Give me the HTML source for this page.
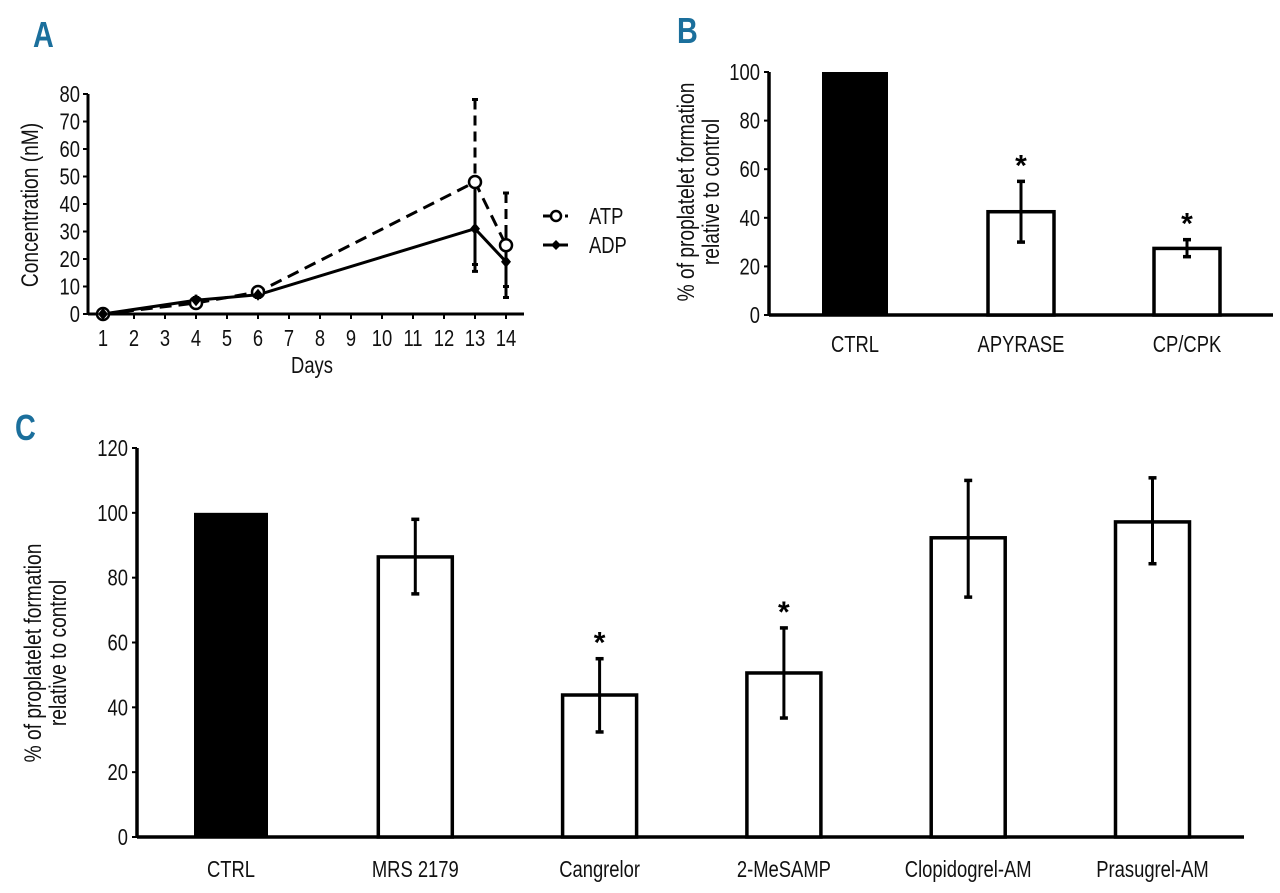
<!DOCTYPE html>
<html><head><meta charset="utf-8"><style>
html,body{margin:0;padding:0;background:#fff;}
svg{display:block;font-family:"Liberation Sans Narrow","Liberation Sans",sans-serif;}
.tk{font-size:23px;fill:#111;}
.lbl{font-size:23px;fill:#111;}
.ttl{font-size:24px;fill:#111;}
.pl{font-size:36px;font-weight:bold;fill:#1b6f9c;font-family:"Liberation Sans Narrow","Liberation Sans",sans-serif;}
</style></head><body>
<svg id="fig" width="1280" height="893" viewBox="0 0 1280 893" xmlns="http://www.w3.org/2000/svg">
<text class="pl" x="33" y="47">A</text>
<text class="pl" x="677" y="43">B</text>
<text class="pl" x="15" y="440">C</text>
<g id="ga"></g>
<g id="gb"></g>
<g id="gc"></g>
</svg>
<script>
// Panel A data
const daysA = [1,4,6,13,14];
const atpVals = [0,4,8,48,25];
const atpErrHi = [0,6,9,78,44];
const atpErrLo = [0,3,7,18,10];
const adpVals = [0,5,7,31,19];
const adpErrHi = [0,7,8,47,30];
const adpErrLo = [0,3,6,15.5,6];
const xTicksA = [1,2,3,4,5,6,7,8,9,10,11,12,13,14];
const yTicksA = [0,10,20,30,40,50,60,70,80];
// Panel B data
const catsB = ["CTRL","APYRASE","CP/CPK"];
const valsB = [100,42.5,27.4];
const errHiB = [100,55,31];
const errLoB = [100,30,24];
const starB = [false,true,true];
const yTicksB = [0,20,40,60,80,100];
// Panel C data
const catsC = ["CTRL","MRS 2179","Cangrelor","2-MeSAMP","Clopidogrel-AM","Prasugrel-AM"];
const valsC = [100,86.4,43.8,50.6,92.3,97.2];
const errHiC = [100,98,55,64.5,110,110.8];
const errLoC = [100,75,32.4,36.7,74,84.3];
const starC = [false,false,true,true,false,false];
const yTicksC = [0,20,40,60,80,100,120];

const NS="http://www.w3.org/2000/svg";
function mk(p,tag,attrs,name,txt){
  const e=document.createElementNS(NS,tag);
  for(const k in attrs) e.setAttribute(k,attrs[k]);
  
  
  if(txt!==undefined) e.textContent=txt;
  p.appendChild(e); return e;
}
// ---------- Panel A ----------
(function(){
  const g=document.getElementById('ga');
  const X0=88, XE=524, Y0=314, YT=94;
  const xA=d=>103+(d-1)*(506-103)/13;
  const yA=v=>Y0-(v/80)*(Y0-YT);
  mk(g,'line',{x1:X0,y1:Y0,x2:XE,y2:Y0,stroke:'#000','stroke-width':3},'x-axis');
  mk(g,'line',{x1:X0,y1:Y0+1,x2:X0,y2:YT,stroke:'#000','stroke-width':3},'y-axis');
  yTicksA.forEach(t=>{
    mk(g,'line',{x1:X0-5,y1:yA(t),x2:X0,y2:yA(t),stroke:'#000','stroke-width':2},'y-tick');
    mk(g,'text',{x:X0-8,y:yA(t)+8,'text-anchor':'end',class:'tk'},'y-tick-label',String(t));
  });
  xTicksA.forEach(t=>{
    mk(g,'line',{x1:xA(t),y1:Y0,x2:xA(t),y2:Y0+5,stroke:'#000','stroke-width':2},'x-tick');
    mk(g,'text',{x:xA(t),y:Y0+32,'text-anchor':'middle',class:'tk'},'x-tick-label',String(t));
  });
  mk(g,'text',{x:312,y:373,'text-anchor':'middle',class:'lbl'},'x-axis-title','Days');
  mk(g,'text',{x:0,y:0,'text-anchor':'middle',class:'ttl',transform:'translate(38,205) rotate(-90)'},'y-axis-title','Concentration (nM)');
  daysA.forEach((d,i)=>{
    if(atpErrHi[i]!==atpErrLo[i]){
      mk(g,'line',{x1:xA(d),y1:yA(atpErrHi[i]),x2:xA(d),y2:yA(atpErrLo[i]),stroke:'#000','stroke-width':3,'stroke-dasharray':'10,6'},'atp-error-bar');
      mk(g,'line',{x1:xA(d)-3,y1:yA(atpErrHi[i]),x2:xA(d)+3,y2:yA(atpErrHi[i]),stroke:'#000','stroke-width':3},'atp-error-cap');
      mk(g,'line',{x1:xA(d)-3,y1:yA(atpErrLo[i]),x2:xA(d)+3,y2:yA(atpErrLo[i]),stroke:'#000','stroke-width':3},'atp-error-cap');
    }
    if(adpErrHi[i]!==adpErrLo[i]){
      mk(g,'line',{x1:xA(d),y1:yA(adpErrHi[i]),x2:xA(d),y2:yA(adpErrLo[i]),stroke:'#000','stroke-width':3},'adp-error-bar');
      mk(g,'line',{x1:xA(d)-3,y1:yA(adpErrLo[i]),x2:xA(d)+3,y2:yA(adpErrLo[i]),stroke:'#000','stroke-width':3},'adp-error-cap');
    }
  });
  const pa=daysA.map((d,i)=>xA(d)+','+yA(atpVals[i])).join(' ');
  mk(g,'polyline',{points:pa,fill:'none',stroke:'#000','stroke-width':3,'stroke-dasharray':'12,7'},'atp-line');
  const pd=daysA.map((d,i)=>xA(d)+','+yA(adpVals[i])).join(' ');
  mk(g,'polyline',{points:pd,fill:'none',stroke:'#000','stroke-width':3},'adp-line');
  daysA.forEach((d,i)=>{
    mk(g,'circle',{cx:xA(d),cy:yA(atpVals[i]),r:6,fill:'#fff',stroke:'#000','stroke-width':2.5},'atp-point');
    const x=xA(d),y=yA(adpVals[i]);
    mk(g,'polygon',{points:`${x},${y-6} ${x+5},${y} ${x},${y+6} ${x-5},${y}`,fill:'#000'},'adp-point');
  });
  mk(g,'line',{x1:543,y1:216,x2:568,y2:216,stroke:'#000','stroke-width':3,'stroke-dasharray':'7,4'},'legend-atp-line');
  mk(g,'circle',{cx:556,cy:216,r:5,fill:'#fff',stroke:'#000','stroke-width':2.5},'legend-atp-marker');
  mk(g,'text',{x:589,y:224,class:'lbl'},'legend-atp-label','ATP');
  mk(g,'line',{x1:543,y1:245,x2:568,y2:245,stroke:'#000','stroke-width':3},'legend-adp-line');
  mk(g,'polygon',{points:'556,240 561,245 556,250 551,245',fill:'#000'},'legend-adp-marker');
  mk(g,'text',{x:589,y:253,class:'lbl'},'legend-adp-label','ADP');
})();
function bars(g,cats,vals,hi,lo,star,ticks,cfg){
  const yS=v=>cfg.Y0-(v/cfg.max)*(cfg.Y0-cfg.YT);
  const xc=i=>cfg.c0+i*cfg.step;
  mk(g,'line',{x1:cfg.X0,y1:cfg.Y0,x2:cfg.XE,y2:cfg.Y0,stroke:'#000','stroke-width':3.5},'x-axis');
  mk(g,'line',{x1:cfg.X0,y1:cfg.Y0+1,x2:cfg.X0,y2:cfg.YT,stroke:'#000','stroke-width':3.5},'y-axis');
  ticks.forEach(t=>{
    mk(g,'line',{x1:cfg.X0-5,y1:yS(t),x2:cfg.X0,y2:yS(t),stroke:'#000','stroke-width':2},'y-tick');
    mk(g,'text',{x:cfg.X0-9,y:yS(t)+8,'text-anchor':'end',class:'tk'},'y-tick-label',String(t));
  });
  cats.forEach((c,i)=>{
    const x=xc(i),w=cfg.bw,top=yS(vals[i]);
    const first=i===0;
    mk(g,'rect',{x:x-w/2,y:top,width:w,height:cfg.Y0-top,fill:first?'#000':'#fff',stroke:'#000','stroke-width':first?0:3.5},'bar-'+c.toLowerCase().replace(/[^a-z0-9]+/g,'-'));
    if(hi[i]!==lo[i]){
      mk(g,'line',{x1:x,y1:yS(hi[i]),x2:x,y2:yS(lo[i]),stroke:'#000','stroke-width':3},'error-bar');
      mk(g,'line',{x1:x-4,y1:yS(hi[i]),x2:x+4,y2:yS(hi[i]),stroke:'#000','stroke-width':3.5},'error-cap');
      mk(g,'line',{x1:x-4,y1:yS(lo[i]),x2:x+4,y2:yS(lo[i]),stroke:'#000','stroke-width':3.5},'error-cap');
    }
    if(star[i]) mk(g,'text',{x:x,y:yS(hi[i])-6,'text-anchor':'middle','font-size':'30px','font-weight':'bold','font-family':'"Liberation Sans",sans-serif'},'significance-star','*');
    mk(g,'text',{x:x,y:cfg.ly,'text-anchor':'middle',class:'lbl'},'category-label',c);
  });
  mk(g,'text',{x:0,y:0,'text-anchor':'middle',class:'ttl',transform:`translate(${cfg.tx},${cfg.ty}) rotate(-90)`},'y-axis-title-line1','% of proplatelet formation');
  mk(g,'text',{x:0,y:0,'text-anchor':'middle',class:'ttl',transform:`translate(${cfg.tx+25},${cfg.ty}) rotate(-90)`},'y-axis-title-line2','relative to control');
}
bars(document.getElementById('gb'),catsB,valsB,errHiB,errLoB,starB,yTicksB,
  {X0:769,XE:1273,Y0:315,YT:72,max:100,c0:855,step:166,bw:66,ly:352,tx:694,ty:192});
bars(document.getElementById('gc'),catsC,valsC,errHiC,errLoC,starC,yTicksC,
  {X0:137,XE:1244,Y0:837,YT:448,max:120,c0:231,step:184.3,bw:74,ly:877,tx:41,ty:653});
// condense text to mimic narrow font
document.querySelectorAll('text').forEach(t=>{
  if(t.textContent==='*') return;
  const L=t.getComputedTextLength();
  const f=t.classList.contains('pl')?0.8:0.8;
  t.setAttribute('textLength',(L*f).toFixed(1));
  t.setAttribute('lengthAdjust','spacingAndGlyphs');
});
</script>
</body></html>
